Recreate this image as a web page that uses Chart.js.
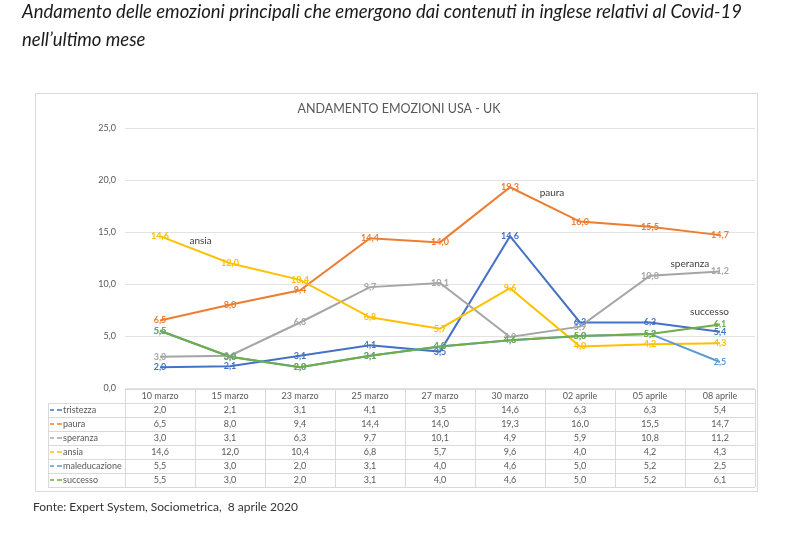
<!DOCTYPE html>
<html>
<head>
<meta charset="utf-8">
<script src="https://cdn.jsdelivr.net/npm/chart.js@4/dist/chart.umd.min.js"></script>
<style>
html,body{margin:0;padding:0;background:#fff;}
#wrap{position:relative;width:785px;height:538px;}
</style>
</head>
<body>
<div id="wrap"><canvas id="c" width="785" height="538"></canvas></div>
<script>
const categories = ['10 marzo','15 marzo','23 marzo','25 marzo','27 marzo','30 marzo','02 aprile','05 aprile','08 aprile'];
const tristezza     = [2.0, 2.1, 3.1, 4.1, 3.5, 14.6, 6.3, 6.3, 5.4];
const paura         = [6.5, 8.0, 9.4, 14.4, 14.0, 19.3, 16.0, 15.5, 14.7];
const speranza      = [3.0, 3.1, 6.3, 9.7, 10.1, 4.9, 5.9, 10.8, 11.2];
const ansia         = [14.6, 12.0, 10.4, 6.8, 5.7, 9.6, 4.0, 4.2, 4.3];
const maleducazione = [5.5, 3.0, 2.0, 3.1, 4.0, 4.6, 5.0, 5.2, 2.5];
const successo      = [5.5, 3.0, 2.0, 3.1, 4.0, 4.6, 5.0, 5.2, 6.1];
const seriesNames   = ['tristezza','paura','speranza','ansia','maleducazione','successo'];
const seriesColors  = ['#4472C4','#ED7D31','#A5A5A5','#FFC000','#5B9BD5','#70AD47'];
const yMin = 0, yMax = 25, yStep = 5;

const pageTitle1 = 'Andamento delle emozioni principali che emergono dai contenuti in inglese relativi al Covid-19';
const pageTitle2 = 'nell\u2019ultimo mese';
const chartTitle = 'ANDAMENTO EMOZIONI USA - UK';
const footer = 'Fonte: Expert System, Sociometrica,  8 aprile 2020';
// series annotations: [text, category index position, value]
const annotations = [['ansia', 0.58, 14.2], ['paura', 5.6, 18.8], ['speranza', 7.57, 11.9], ['successo', 7.85, 7.3]];

const seriesData = [tristezza, paura, speranza, ansia, maleducazione, successo];
const fmt = v => v.toFixed(1).replace('.', ',');

const datasets = seriesData.map((d, i) => ({
  label: seriesNames[i],
  data: d,
  borderColor: seriesColors[i],
  backgroundColor: seriesColors[i],
  borderWidth: 2,
  pointRadius: 0,
  tension: 0,
  order: seriesData.length - i
}));

const FONT = 'Lato, "Liberation Sans", sans-serif';

const decor = {
  id: 'decor',
  beforeDraw(chart) {
    const ctx = chart.ctx;
    ctx.save();
    ctx.fillStyle = '#fff';
    ctx.fillRect(0, 0, chart.width, chart.height);
    // frame
    ctx.strokeStyle = '#d9d9d9';
    ctx.lineWidth = 1;
    ctx.strokeRect(35.5, 93.5, 722, 398);
    // page title
    ctx.fillStyle = '#1a1a1a';
    ctx.font = 'italic 18.5px ' + FONT;
    ctx.textAlign = 'left';
    ctx.textBaseline = 'alphabetic';
    ctx.fillText(pageTitle1, 22, 18);
    ctx.fillText(pageTitle2, 22, 46);
    // chart title
    ctx.fillStyle = '#595959';
    ctx.font = '12.5px ' + FONT;
    ctx.textAlign = 'center';
    ctx.textBaseline = 'middle';
    ctx.fillText(chartTitle, 399, 109);
    // footer
    ctx.fillStyle = '#333';
    ctx.font = '12px ' + FONT;
    ctx.textAlign = 'left';
    ctx.fillText(footer, 33, 507);
    ctx.restore();
  },
  afterDatasetsDraw(chart) {
    const ctx = chart.ctx;
    const xs = chart.scales.x, ys = chart.scales.y;
    ctx.save();
    ctx.font = 'bold 9px ' + FONT;
    ctx.textAlign = 'center';
    ctx.textBaseline = 'middle';
    for (let i = 0; i < seriesData.length; i++) {
      ctx.fillStyle = seriesColors[i];
      seriesData[i].forEach((v, j) => {
        ctx.fillText(fmt(v), xs.getPixelForValue(j), ys.getPixelForValue(v));
      });
    }
    // annotations
    ctx.fillStyle = '#404040';
    ctx.font = '10px ' + FONT;
    annotations.forEach(a => {
      ctx.fillText(a[0], xs.getPixelForValue(a[1]), ys.getPixelForValue(a[2]));
    });
    // data table
    const n = categories.length;
    const colW = (xs.right - xs.left) / n;
    const top = ys.bottom + 1;
    const rowH = 14;
    const nRows = seriesData.length + 1;
    const labelLeft = 48;
    ctx.strokeStyle = '#d9d9d9';
    ctx.lineWidth = 1;
    ctx.beginPath();
    for (let r = 0; r <= nRows; r++) {
      const y = Math.round(top + r * rowH) + 0.5;
      ctx.moveTo(r === 0 ? xs.left : labelLeft, y);
      ctx.lineTo(xs.right, y);
    }
    for (let c = 0; c <= n; c++) {
      const x = Math.round(xs.left + c * colW) + 0.5;
      ctx.moveTo(x, top);
      ctx.lineTo(x, top + nRows * rowH);
    }
    ctx.moveTo(labelLeft + 0.5, top + rowH);
    ctx.lineTo(labelLeft + 0.5, top + nRows * rowH);
    ctx.stroke();
    ctx.font = '9px ' + FONT;
    ctx.fillStyle = '#595959';
    ctx.textAlign = 'center';
    categories.forEach((c, j) => {
      ctx.fillText(c, xs.getPixelForValue(j), top + rowH / 2);
    });
    for (let i = 0; i < seriesData.length; i++) {
      const yc = top + (i + 1.5) * rowH;
      ctx.fillStyle = '#595959';
      ctx.textAlign = 'center';
      seriesData[i].forEach((v, j) => {
        ctx.fillText(fmt(v), xs.getPixelForValue(j), yc);
      });
      // legend key
      ctx.strokeStyle = seriesColors[i];
      ctx.lineWidth = 1.5;
      ctx.beginPath();
      ctx.moveTo(50, yc); ctx.lineTo(54, yc);
      ctx.moveTo(57, yc); ctx.lineTo(62, yc);
      ctx.stroke();
      ctx.textAlign = 'left';
      ctx.fillStyle = '#595959';
      ctx.fillText(seriesNames[i], 63, yc);
    }
    ctx.restore();
  }
};

new Chart(document.getElementById('c'), {
  type: 'line',
  data: { labels: categories, datasets },
  options: {
    responsive: false,
    animation: false,
    events: [],
    layout: { padding: { top: 128, left: 0, right: 30, bottom: 150 } },
    plugins: { legend: { display: false }, title: { display: false }, tooltip: { enabled: false } },
    scales: {
      x: { display: false, offset: true },
      y: {
        min: yMin, max: yMax,
        afterFit(s) { s.width = 125; },
        border: { display: false },
        grid: { color: '#e3e3e3', drawTicks: false },
        ticks: {
          stepSize: yStep,
          padding: 9,
          color: '#595959',
          font: { family: FONT, size: 9 },
          callback: v => fmt(v)
        }
      }
    }
  },
  plugins: [decor]
});
</script>
</body>
</html>
